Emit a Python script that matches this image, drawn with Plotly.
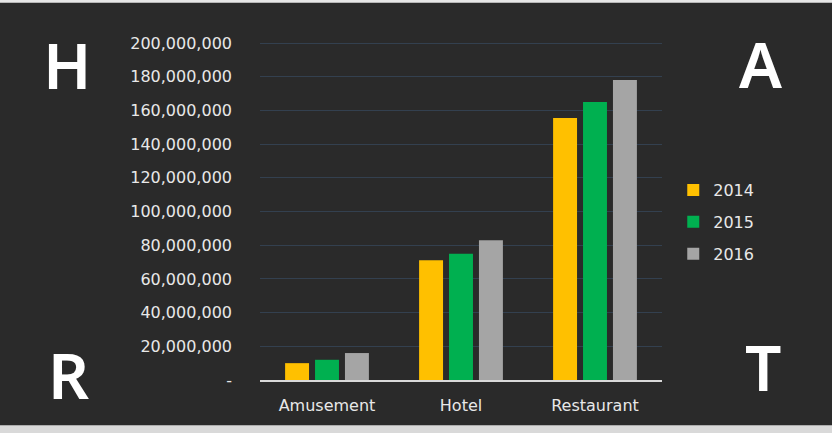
import plotly.graph_objects as go

# data
categories = ['Amusement', 'Hotel', 'Restaurant']
years = ['2014', '2015', '2016']
sales_2014 = [10_000_000, 71_000_000, 155_500_000]
sales_2015 = [12_000_000, 75_000_000, 165_000_000]
sales_2016 = [16_000_000, 83_000_000, 178_000_000]
tick_vals = [0, 20e6, 40e6, 60e6, 80e6, 100e6, 120e6, 140e6, 160e6, 180e6, 200e6]
tick_text = ['-', '20,000,000', '40,000,000', '60,000,000', '80,000,000', '100,000,000',
             '120,000,000', '140,000,000', '160,000,000', '180,000,000', '200,000,000']
corner_letters = ['H', 'A', 'R', 'T']

colors = ['#FFC000', '#00B050', '#A5A5A5']
series = [sales_2014, sales_2015, sales_2016]

fig = go.Figure()
for i, (yr, vals) in enumerate(zip(years, series)):
    fig.add_trace(go.Bar(
        x=categories, y=vals, name=yr, legendgroup=yr,
        marker=dict(color=colors[i], line=dict(width=0))))

# chalk letters in the corners
letter_pos = [(-0.48, 0.932), (1.246, 0.935), (-0.477, 0.015), (1.251, 0.039)]
annotations = []
for letter, (lx, ly) in zip(corner_letters, letter_pos):
    annotations.append(dict(text=letter, x=lx, y=ly, xref='paper', yref='paper',
                            showarrow=False, xanchor='center', yanchor='middle',
                            font=dict(family='Noto Sans', size=64, color='white',
                                      weight=600)))

fig.update_layout(
    width=832, height=433,
    margin=dict(l=260, r=170, t=42, b=53),
    paper_bgcolor='#2a2a2a', plot_bgcolor='rgba(0,0,0,0)',
    barmode='group', bargap=0.33, bargroupgap=0.2,
    font=dict(family='DejaVu Sans', size=16, color='#e8e8e8'),
    showlegend=True,
    legend=dict(x=1.028, y=0.612, xanchor='left', yanchor='top',
                font=dict(size=16, color='#e8e8e8'), tracegroupgap=8,
                bgcolor='rgba(0,0,0,0)'),
    annotations=annotations,
    shapes=[
        dict(type='rect', xref='paper', yref='paper', x0=-0.7, x1=1.5,
             y0=1.116, y1=1.14, fillcolor='#e6e6e6', line=dict(width=0), layer='below'),
        dict(type='rect', xref='paper', yref='paper', x0=-0.7, x1=1.5,
             y0=-0.17, y1=-0.134, fillcolor='#d9d9d9', line=dict(width=0), layer='below'),
    ],
)
fig.update_xaxes(showgrid=False, showline=True, linecolor='#d9d9d9', linewidth=2,
                 ticks='', tickfont=dict(size=16, color='#e8e8e8'), ticklabelstandoff=10)
fig.update_yaxes(range=[0, 200.6e6], tickvals=tick_vals, ticktext=tick_text,
                 showgrid=True, gridcolor='#33404f', gridwidth=1, zeroline=False,
                 showline=False, ticks='', ticklabelstandoff=27,
                 tickfont=dict(size=16, color='#e8e8e8'))

fig.write_html('out.html', config={'displayModeBar': False},
               post_script="document.body.style.margin='0px';")
